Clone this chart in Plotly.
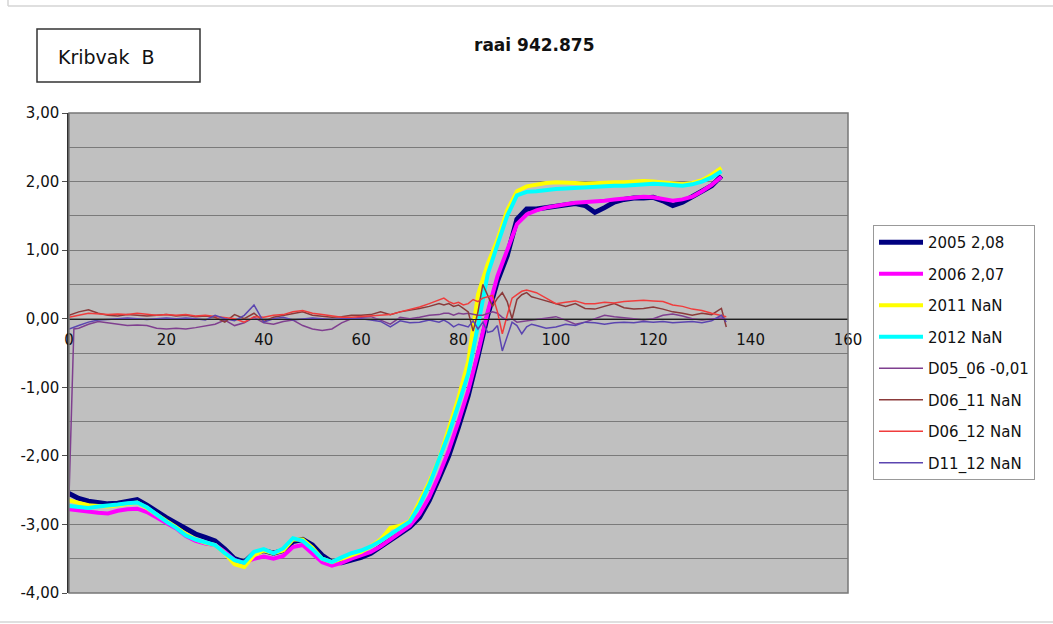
import plotly.graph_objects as go

# Profile positions (m) for the yearly bed-level soundings
X_P = list(range(0, 136, 2))

Y2005 = [-2.55, -2.62, -2.66, -2.68, -2.70, -2.69, -2.66, -2.64, -2.72, -2.82,
         -2.90, -2.98, -3.07, -3.14, -3.19, -3.24, -3.36, -3.50, -3.55, -3.42,
         -3.38, -3.42, -3.38, -3.25, -3.22, -3.30, -3.45, -3.55, -3.56, -3.52,
         -3.48, -3.42, -3.32, -3.22, -3.12, -3.04, -2.90, -2.65, -2.33, -2.00,
         -1.58, -1.12, -0.55, 0.05, 0.55, 0.92, 1.45, 1.60, 1.60, 1.62,
         1.63, 1.66, 1.68, 1.65, 1.55, 1.62, 1.70, 1.74, 1.76, 1.76,
         1.77, 1.72, 1.65, 1.70, 1.78, 1.85, 1.94, 2.08]

Y2006 = [-2.78, -2.80, -2.82, -2.83, -2.84, -2.80, -2.78, -2.77, -2.82, -2.90,
         -2.98, -3.06, -3.17, -3.24, -3.28, -3.30, -3.40, -3.52, -3.56, -3.50,
         -3.47, -3.50, -3.46, -3.33, -3.30, -3.42, -3.55, -3.60, -3.56, -3.50,
         -3.45, -3.40, -3.32, -3.22, -3.12, -3.02, -2.85, -2.60, -2.28, -1.92,
         -1.50, -1.05, -0.50, 0.10, 0.62, 1.00, 1.38, 1.52, 1.58, 1.62,
         1.65, 1.67, 1.69, 1.70, 1.70, 1.72, 1.74, 1.75, 1.77, 1.78,
         1.77, 1.75, 1.72, 1.74, 1.78, 1.86, 1.95, 2.07]

Y2011 = [-2.65, -2.68, -2.72, -2.73, -2.74, -2.72, -2.70, -2.68, -2.76, -2.86,
         -2.95, -3.04, -3.14, -3.22, -3.27, -3.30, -3.42, -3.58, -3.62, -3.45,
         -3.38, -3.42, -3.38, -3.22, -3.22, -3.34, -3.50, -3.55, -3.50, -3.45,
         -3.40, -3.32, -3.22, -3.05, -3.02, -2.95, -2.68, -2.38, -2.05, -1.62,
         -1.15, -0.62, 0.35, 0.80, 1.15, 1.58, 1.86, 1.93, 1.96, 1.98,
         1.99, 1.99, 1.98, 1.97, 1.98, 1.99, 1.99, 1.99, 2.00, 2.01,
         2.00, 1.99, 1.97, 1.96, 1.98, 2.02, 2.10, 2.20]

Y2012 = [-2.73, -2.74, -2.76, -2.74, -2.73, -2.71, -2.69, -2.68, -2.75, -2.86,
         -2.96, -3.05, -3.16, -3.22, -3.26, -3.30, -3.42, -3.52, -3.56, -3.40,
         -3.36, -3.42, -3.35, -3.20, -3.24, -3.36, -3.50, -3.55, -3.48, -3.42,
         -3.38, -3.32, -3.24, -3.14, -3.05, -2.96, -2.72, -2.42, -2.05, -1.68,
         -1.25, -0.80, -0.10, 0.65, 1.08, 1.50, 1.80, 1.85, 1.86, 1.88,
         1.89, 1.90, 1.91, 1.91, 1.92, 1.93, 1.94, 1.94, 1.95, 1.96,
         1.97, 1.96, 1.95, 1.94, 1.96, 2.00, 2.06, 2.15]

# Positions for the difference series (denser across the slope)
X_D = [0, 1] + list(range(2, 76, 2)) + list(range(76, 97)) + list(range(98, 135, 2)) + [135]

D05_06 = ([-2.60, -0.15]
          + [-0.14, -0.08, -0.04, -0.06, -0.09, -0.10, -0.09, -0.10, -0.14, -0.15,
             -0.14, -0.15, -0.13, -0.10, -0.08, -0.02, -0.10, -0.06, 0.02, -0.06,
             -0.08, -0.04, -0.02, -0.10, -0.15, -0.17, -0.15, -0.06, 0.00, 0.02,
             0.03, -0.02, -0.08, 0.02, 0.00, 0.02, 0.05]
          + [0.06, 0.08, 0.08, 0.05, 0.08, 0.07, 0.08, 0.06, 0.05, 0.05, 0.08,
             0.10, 0.08, 0.02, -0.02, 0.00, -0.05, -0.04, -0.03, -0.02, 0.00]
          + [0.02, 0.03, -0.02, -0.08, -0.05, 0.00, 0.05, 0.03, 0.02, 0.00,
             -0.02, 0.00, 0.05, 0.07, 0.04, 0.00, -0.02, 0.00, 0.01]
          + [-0.01])

D06_11 = ([0.05, 0.08]
          + [0.10, 0.13, 0.08, 0.05, 0.04, 0.06, 0.05, 0.04, 0.05, 0.06,
             0.04, 0.05, 0.03, 0.04, 0.02, -0.05, 0.06, 0.00, 0.08, -0.04,
             0.02, 0.05, 0.08, 0.10, 0.05, 0.04, 0.02, 0.03, 0.05, 0.05,
             0.06, 0.10, 0.06, 0.10, 0.12, 0.15, 0.18]
          + [0.22, 0.20, 0.22, 0.18, 0.20, 0.15, 0.10, -0.18, 0.10, 0.50, 0.35,
             0.18, 0.30, 0.38, 0.25, 0.00, 0.28, 0.35, 0.38, 0.32, 0.30]
          + [0.26, 0.22, 0.18, 0.22, 0.15, 0.14, 0.18, 0.22, 0.16, 0.14,
             0.15, 0.17, 0.14, 0.10, 0.08, 0.05, 0.08, 0.06, 0.15]
          + [-0.12])

D06_12 = ([0.02, 0.03]
          + [0.05, 0.08, 0.07, 0.06, 0.07, 0.06, 0.08, 0.07, 0.05, 0.06,
             0.05, 0.06, 0.04, 0.05, 0.03, 0.02, 0.00, -0.05, 0.03, 0.02,
             0.05, 0.06, 0.10, 0.12, 0.08, 0.06, 0.04, 0.02, 0.02, 0.03,
             0.04, 0.05, 0.06, 0.10, 0.13, 0.17, 0.22]
          + [0.28, 0.30, 0.25, 0.22, 0.24, 0.20, 0.22, 0.28, 0.25, 0.30, 0.32,
             0.34, 0.10, -0.22, 0.05, 0.30, 0.35, 0.40, 0.42, 0.40, 0.38]
          + [0.30, 0.22, 0.24, 0.26, 0.22, 0.22, 0.24, 0.23, 0.25, 0.26,
             0.27, 0.26, 0.25, 0.20, 0.18, 0.14, 0.12, 0.08, 0.05]
          + [0.03])

D11_12 = ([-0.15, -0.12]
          + [-0.10, -0.05, -0.02, -0.01, 0.00, 0.01, 0.00, -0.01, 0.00, 0.01,
             0.00, 0.01, 0.00, -0.02, 0.05, 0.00, -0.03, 0.05, 0.20, -0.05,
             0.00, 0.02, -0.02, 0.00, 0.01, 0.00, -0.01, 0.00, 0.00, 0.00,
             -0.02, -0.04, -0.12, -0.03, -0.06, -0.05, -0.02]
          + [-0.05, -0.02, -0.06, -0.12, -0.08, -0.10, -0.12, -0.03, -0.15, -0.05, -0.20,
             -0.18, -0.10, -0.47, -0.25, -0.05, -0.10, -0.22, -0.12, -0.08, -0.10]
          + [-0.14, -0.12, -0.08, -0.10, -0.05, -0.06, -0.08, -0.06, -0.05, -0.06,
             -0.04, -0.05, -0.04, -0.06, -0.05, -0.04, -0.06, -0.03, 0.05]
          + [-0.05])

# Y-axis ticks, written with a decimal comma and a plain hyphen for negatives
Y_TICKS = [-4, -3, -2, -1, 0, 1, 2, 3]
Y_TICK_TEXT = ["-4,00", "-3,00", "-2,00", "-1,00", "0,00", "1,00", "2,00", "3,00"]

SERIES = [
    ("2005 2,08", X_P, Y2005, "#000080", 5),
    ("2006 2,07", X_P, Y2006, "#ff00ff", 4),
    ("2011 NaN", X_P, Y2011, "#ffff00", 4),
    ("2012 NaN", X_P, Y2012, "#00ffff", 4),
    ("D05_06 -0,01", X_D, D05_06, "#7f3f8f", 1.5),
    ("D06_11 NaN", X_D, D06_11, "#8b3a3a", 1.5),
    ("D06_12 NaN", X_D, D06_12, "#f03c3c", 1.5),
    ("D11_12 NaN", X_D, D11_12, "#5b45b0", 1.5),
]

FONT = "DejaVu Sans, Arial, sans-serif"

fig = go.Figure()
for i, (name, xs, ys, color, width) in enumerate(SERIES):
    fig.add_trace(go.Scatter(
        x=xs, y=ys, mode="lines", name=name,
        line=dict(color=color, width=width),
        legendgroup=f"g{i}",
    ))

# plot-area geometry in pixels
L, R, T, B = 69, 848, 113, 593
W, H = R - L, B - T


def px(xp):
    return (xp - L) / W


def py(yp):
    return (B - yp) / H


fig.update_layout(
    width=1053, height=624,
    margin=dict(l=L, r=1053 - R, t=T, b=624 - B, pad=0),
    paper_bgcolor="white",
    plot_bgcolor="#c0c0c0",
    font=dict(family=FONT, size=14, color="#111111"),
    showlegend=True,
    legend=dict(
        x=px(873), y=py(225), xanchor="left", yanchor="top",
        bgcolor="white", bordercolor="#999999", borderwidth=1,
        font=dict(family=FONT, size=15, color="#111111"),
        traceorder="grouped", tracegroupgap=9,
        itemwidth=44,
    ),
    xaxis=dict(
        range=[0, 160], dtick=20, tick0=0,
        anchor="free", position=4 / 7,
        showgrid=False, zeroline=False,
        showline=True, linecolor="#202020", linewidth=1,
        ticks="", ticklabelstandoff=7,
        tickfont=dict(family=FONT, size=15, color="#111111"),
    ),
    yaxis=dict(
        range=[-4, 3],
        tickmode="array", tickvals=Y_TICKS, ticktext=Y_TICK_TEXT,
        domain=[0, 1],
        showgrid=True, gridcolor="#7a7a7a", gridwidth=1,
        minor=dict(dtick=0.5, tick0=0, showgrid=True, gridcolor="#7a7a7a", gridwidth=1),
        zeroline=False,
        showline=True, linecolor="#303030", linewidth=1.5,
        ticks="outside", ticklen=5, tickcolor="#505050",
        tickfont=dict(family=FONT, size=15, color="#111111"),
    ),
)

shapes = [
    # plot-area frame
    dict(type="rect", xref="paper", yref="paper", x0=0, x1=1, y0=0, y1=1,
         line=dict(color="#777777", width=1.5), layer="above"),
    # outer page rules
    dict(type="line", xref="paper", yref="paper", x0=px(8), x1=px(1053), y0=py(6), y1=py(6),
         line=dict(color="#d4d4d4", width=1.5)),
    dict(type="line", xref="paper", yref="paper", x0=px(8), x1=px(8), y0=py(0), y1=py(6),
         line=dict(color="#d4d4d4", width=1.5)),
    dict(type="line", xref="paper", yref="paper", x0=px(0), x1=px(1053), y0=py(622), y1=py(622),
         line=dict(color="#d4d4d4", width=1.5)),
    # label box
    dict(type="rect", xref="paper", yref="paper", x0=px(37), x1=px(200), y0=py(82), y1=py(29),
         line=dict(color="#333333", width=1.5), fillcolor="white"),
]
fig.update_layout(shapes=shapes)

fig.add_annotation(text="Kribvak  B", xref="paper", yref="paper",
                   x=px(56), y=py(57), xanchor="left", yanchor="middle",
                   showarrow=False, font=dict(family=FONT, size=19, color="#111111"))
fig.add_annotation(text="<b>raai 942.875</b>", xref="paper", yref="paper",
                   x=px(534), y=py(45), xanchor="center", yanchor="middle",
                   showarrow=False, font=dict(family=FONT, size=17, color="#111111"))

fig.write_html("out.html")
